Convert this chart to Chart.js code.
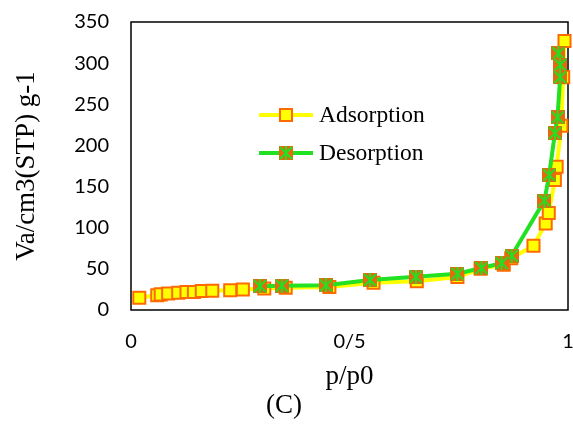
<!DOCTYPE html>
<html>
<head>
<meta charset="utf-8">
<script src="https://cdn.jsdelivr.net/npm/chart.js@4/dist/chart.umd.min.js"></script>
<style>
  html, body { margin: 0; padding: 0; background: #fff; }
  #wrap { width: 573px; height: 425px; }
</style>
</head>
<body>
<div id="wrap"><canvas id="chart" width="573" height="425"></canvas></div>
<script>
const adsorptionX = [0.019, 0.060, 0.068, 0.085, 0.108, 0.127, 0.144, 0.162, 0.186, 0.227, 0.256, 0.305, 0.354, 0.454, 0.555, 0.654, 0.747, 0.800, 0.853, 0.870, 0.921, 0.949, 0.956, 0.970, 0.974, 0.985, 0.989, 0.992];
const adsorptionY = [15, 18, 19, 20, 21, 22, 22, 23, 23.5, 24, 25, 26, 27, 28, 33, 35, 40, 50, 55, 63, 78, 105, 118, 158, 174, 224, 283, 327];

const desorptionX = [0.978, 0.982, 0.982, 0.976, 0.970, 0.957, 0.946, 0.871, 0.848, 0.802, 0.747, 0.652, 0.547, 0.446, 0.345, 0.295];
const desorptionY = [312, 298, 283, 234, 215, 164, 133, 66, 57, 51, 44, 40.5, 36.5, 30, 29.5, 29];

const yTicks = [0, 50, 100, 150, 200, 250, 300, 350];
const xTickLabels = ['0', '0/5', '1'];

const seriesNames = ['Adsorption', 'Desorption'];

// desorption marker: orange square with green star
function starMarker() {
  const c = document.createElement('canvas');
  c.width = 14; c.height = 14;
  const g = c.getContext('2d');
  g.fillStyle = '#E8680E';
  g.fillRect(0, 0, 14, 14);
  g.strokeStyle = '#22E022';
  g.lineWidth = 2;
  g.beginPath();
  g.moveTo(1, 1); g.lineTo(13, 13);
  g.moveTo(13, 1); g.lineTo(1, 13);
  g.moveTo(7, 0); g.lineTo(7, 14);
  g.stroke();
  return c;
}
const desMarker = starMarker();

const framePlugin = {
  id: 'frame',
  beforeDatasetsDraw(chart) {
    const { ctx, chartArea: a } = chart;
    ctx.save();
    ctx.strokeStyle = '#000';
    ctx.lineWidth = 1.5;
    ctx.strokeRect(a.left, a.top, a.right - a.left, a.bottom - a.top);
    ctx.restore();
  }
};

const legendPlugin = {
  id: 'inLegend',
  afterDraw(chart) {
    const { ctx } = chart;
    const rows = [
      { y: 115, ds: chart.data.datasets[0] },
      { y: 153, ds: chart.data.datasets[1] }
    ];
    ctx.save();
    rows.forEach(r => {
      ctx.strokeStyle = r.ds.borderColor;
      ctx.lineWidth = 4;
      ctx.beginPath();
      ctx.moveTo(259, r.y);
      ctx.lineTo(313, r.y);
      ctx.stroke();
      if (r.ds.pointStyle === 'rect') {
        ctx.fillStyle = r.ds.pointBackgroundColor;
        ctx.strokeStyle = r.ds.pointBorderColor;
        ctx.lineWidth = 2;
        ctx.fillRect(280, r.y - 6, 12, 12);
        ctx.strokeRect(280, r.y - 6, 12, 12);
      } else {
        ctx.drawImage(desMarker, 279, r.y - 7);
      }
      ctx.fillStyle = '#000';
      ctx.font = '23.5px "Liberation Serif"';
      ctx.textBaseline = 'middle';
      ctx.fillText(r.ds.label, 319, r.y + 1);
    });
    ctx.restore();
  }
};

new Chart(document.getElementById('chart').getContext('2d'), {
  type: 'scatter',
  data: {
    datasets: [
      {
        label: seriesNames[0],
        data: adsorptionX.map((x, i) => ({ x, y: adsorptionY[i] })),
        showLine: true,
        borderColor: '#FFFF00',
        borderWidth: 4,
        pointStyle: 'rect',
        pointRadius: 8.5,
        pointBackgroundColor: '#FFFF00',
        pointBorderColor: '#FF6A00',
        pointBorderWidth: 2,
        clip: false,
        order: 2
      },
      {
        label: seriesNames[1],
        data: desorptionX.map((x, i) => ({ x, y: desorptionY[i] })),
        showLine: true,
        borderColor: '#22E022',
        borderWidth: 4,
        pointStyle: desMarker,
        clip: false,
        order: 1
      }
    ]
  },
  options: {
    responsive: false,
    animation: false,
    layout: { autoPadding: false, padding: { top: 22, right: 5, left: 0, bottom: 0 } },
    plugins: {
      legend: { display: false },
      tooltip: { enabled: false },
      title: {
        display: true,
        position: 'bottom',
        text: '(C)',
        color: '#000',
        font: { family: '"Liberation Serif"', size: 27, weight: 'normal', lineHeight: 1 },
        padding: { top: 2, bottom: 6 }
      }
    },
    scales: {
      x: {
        type: 'linear',
        min: 0,
        max: 1,
        grid: { display: false, drawTicks: false },
        border: { display: false },
        ticks: {
          stepSize: 0.5,
          padding: 20,
          color: '#000',
          font: { family: 'Lato', size: 20 },
          callback: (v, i) => xTickLabels[i]
        },
        title: {
          display: true,
          text: 'p/p0',
          color: '#000',
          font: { family: '"Liberation Serif"', size: 27, lineHeight: 1 },
          padding: { top: 0, bottom: 0 }
        },
        afterFit: s => { s.height = 80; s.paddingLeft = 0; s.paddingRight = 0; }
      },
      y: {
        min: 0,
        max: 350,
        grid: { display: false, drawTicks: false },
        border: { display: false },
        afterBuildTicks: s => { s.ticks = yTicks.map(v => ({ value: v })); },
        ticks: {
          padding: 22,
          color: '#000',
          font: { family: 'Lato', size: 20 }
        },
        title: {
          display: true,
          text: 'Va/cm3(STP) g-1',
          color: '#000',
          font: { family: '"Liberation Serif"', size: 27, lineHeight: 1 },
          padding: { top: 13, bottom: 0 }
        },
        afterFit: s => { s.width = 131; s.paddingTop = 0; s.paddingBottom = 0; }
      }
    }
  },
  plugins: [framePlugin, legendPlugin]
});
</script>
</body>
</html>
